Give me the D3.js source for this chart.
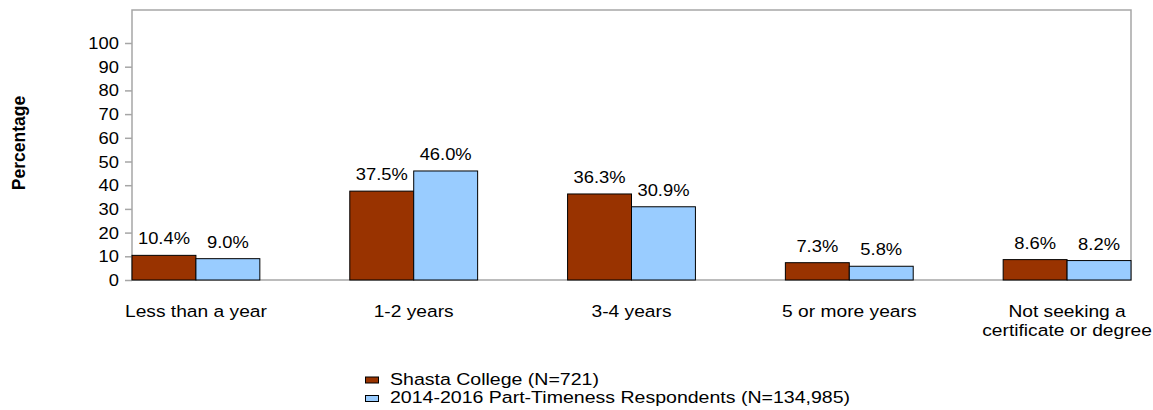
<!DOCTYPE html>
<html><head><meta charset="utf-8">
<script src="https://cdn.jsdelivr.net/npm/d3@7"></script>
<style>body{margin:0;background:#fff;} text{font-family:"Liberation Sans",Arial,sans-serif;}</style>
</head><body><svg id="c" width="1153" height="410"></svg>
<script>
const categories = [["Less than a year"], ["1-2 years"], ["3-4 years"], ["5 or more years"], ["Not seeking a", "certificate or degree"]];
const seriesNames = ["Shasta College (N=721)", "2014-2016 Part-Timeness Respondents (N=134,985)"];
const shasta = [10.4, 37.5, 36.3, 7.3, 8.6];
const statewide = [9.0, 46.0, 30.9, 5.8, 8.2];
const yTicks = [0, 10, 20, 30, 40, 50, 60, 70, 80, 90, 100];
const colors = ["#993300", "#99ccff"];

(function(){
const svg = d3.select("#c");
const pL = 132, pR = 1131, pT = 10, pB = 280;
const FS = 17, SX = 1.12;
const y = d3.scaleLinear().domain([0, 100]).range([pB, 43]);
const x0 = d3.scaleBand().domain(d3.range(categories.length)).range([pL, pR]).paddingInner(0.413).paddingOuter(0);
const x1 = d3.scaleBand().domain([0, 1]).range([0, x0.bandwidth()]);

function label(parent, x, yy, txt, anchor, sx) {
  return parent.append("text")
    .attr("transform", `translate(${x},${yy}) scale(${sx || SX},1)`)
    .attr("text-anchor", anchor || "middle").attr("font-size", FS).attr("fill", "#000").text(txt);
}

svg.append("rect").attr("x", pL).attr("y", pT).attr("width", pR - pL).attr("height", pB - pT)
  .attr("fill", "none").attr("stroke", "#a6a6a6").attr("stroke-width", 1.5);

const yAxis = d3.axisLeft(y).tickValues(yTicks).tickSize(7).tickFormat("");
const ga = svg.append("g").attr("transform", `translate(${pL},0)`).call(yAxis);
ga.select(".domain").remove();
ga.selectAll("line").attr("stroke", "#a6a6a6").attr("stroke-width", 1.5);
yTicks.forEach(t => label(svg, 119, y(t) + 6, String(t), "end", 1.08));

svg.append("text").attr("transform", "translate(25,143) rotate(-90)").attr("text-anchor", "middle")
  .attr("font-size", 17.5).attr("font-weight", "bold").text("Percentage");

const data = [shasta, statewide];
data.forEach((vals, s) => {
  const g = svg.append("g");
  g.selectAll("rect").data(vals).join("rect")
    .attr("x", (d, i) => x0(i) + x1(s))
    .attr("y", d => y(d))
    .attr("width", x1.bandwidth())
    .attr("height", d => y(0) - y(d))
    .attr("fill", colors[s]).attr("stroke", "#000").attr("stroke-width", 1);
  vals.forEach((d, i) => label(g, x0(i) + x1(s) + x1.bandwidth() / 2, y(d) - 11, d.toFixed(1) + "%", "middle", 1.08));
});

categories.forEach((lines, i) => {
  lines.forEach((l, j) => label(svg, x0(i) + x0.bandwidth() / 2, 317 + j * 18.5, l, "middle", 1.13));
});

seriesNames.forEach((n, s) => {
  const ly = 384.5 + s * 18.5;
  svg.append("rect").attr("x", 365.5).attr("y", ly - 7.5).attr("width", 13).attr("height", 6)
    .attr("fill", colors[s]).attr("stroke", "#000").attr("stroke-width", 1);
  label(svg, 390, ly, n, "start", 1.15);
});
})();
</script></body></html>
